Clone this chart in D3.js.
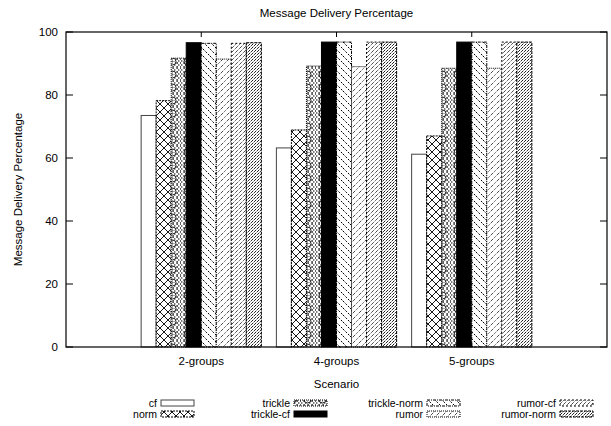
<!DOCTYPE html>
<html>
<head>
<meta charset="utf-8">
<script src="https://cdn.jsdelivr.net/npm/d3@7"></script>
<style>
  body { margin: 0; background: #fff; }
  text { font-family: "Liberation Sans", Arial, sans-serif; fill: #000; }
</style>
</head>
<body>
<script>
const width = 611, height = 426;
const margin = { top: 32, right: 4, bottom: 79, left: 66 };

// chart data
const scenarios = ["2-groups", "4-groups", "5-groups"];
const seriesNames = ["cf", "norm", "trickle", "trickle-cf", "trickle-norm", "rumor", "rumor-cf", "rumor-norm"];
const cfValues = [73.5, 63.2, 61.2];
const normValues = [78.2, 68.9, 67.0];
const trickleValues = [91.7, 89.2, 88.5];
const trickleCfValues = [96.6, 96.8, 96.8];
const trickleNormValues = [96.4, 96.8, 96.8];
const rumorValues = [91.4, 89.0, 88.5];
const rumorCfValues = [96.4, 96.8, 96.8];
const rumorNormValues = [96.6, 96.8, 96.8];
const yTicks = [0, 20, 40, 60, 80, 100];

const seriesValues = [cfValues, normValues, trickleValues, trickleCfValues,
  trickleNormValues, rumorValues, rumorCfValues, rumorNormValues];

const svg = d3.select("body").append("svg")
    .attr("width", width)
    .attr("height", height);

const x = d3.scaleLinear().domain([-1, 3]).range([margin.left, width - margin.right]);
const y = d3.scaleLinear().domain([0, 100]).range([height - margin.bottom, margin.top]);

// fill patterns, rough copies of the postscript ones
const defs = svg.append("defs");
function linePattern(id, size, lines, dash, sw) {
  const p = defs.append("pattern")
      .attr("id", id)
      .attr("patternUnits", "userSpaceOnUse")
      .attr("width", size).attr("height", size);
  p.append("rect").attr("width", size).attr("height", size).attr("fill", "#fff");
  lines.forEach(l => {
    p.append("line")
        .attr("x1", l[0]).attr("y1", l[1]).attr("x2", l[2]).attr("y2", l[3])
        .attr("stroke", "#000").attr("stroke-width", sw || 1)
        .attr("stroke-dasharray", dash || null);
  });
  return p;
}
linePattern("p-norm", 8, [[0, 0, 8, 8], [0, 8, 8, 0]], null, 0.9);
linePattern("p-trickle", 4, [[0, 0, 4, 4], [0, 4, 4, 0]], "1,1", 0.9);
// trickle also has small circles every few rows
const pt2 = defs.append("pattern")
    .attr("id", "p-trickle2")
    .attr("patternUnits", "userSpaceOnUse")
    .attr("x", 0).attr("y", 3)
    .attr("width", 15).attr("height", 13);
pt2.append("rect").attr("width", 15).attr("height", 13).attr("fill", "url(#p-trickle)");
pt2.append("circle").attr("cx", 7.5).attr("cy", 6.5).attr("r", 3.5)
    .attr("fill", "#fff").attr("stroke", "#000").attr("stroke-width", 0.9);
pt2.append("path").attr("d", "M7.5,3.5V9.5M4.5,6.5H10.5")
    .attr("stroke", "#000").attr("stroke-width", 0.7).attr("stroke-dasharray", "1,1");
linePattern("p-tnorm", 7, [[0, 0, 7, 7], [-7, 0, 0, 7], [7, 0, 14, 7]], "2,1.5", 1);
linePattern("p-rumor", 6, [[0, 6, 6, 0], [-6, 6, 0, 0], [6, 6, 12, 0]], "1,1.5", 1);
linePattern("p-rcf", 4, [[0, 4, 4, 0], [-4, 4, 0, 0], [4, 4, 8, 0]], "1,1", 1);
linePattern("p-rnorm", 3, [[0, 3, 3, 0], [-3, 3, 0, 0], [3, 3, 6, 0]], "2,1", 0.9);

const fills = ["#fff", "url(#p-norm)", "url(#p-trickle2)", "#000",
  "url(#p-tnorm)", "url(#p-rumor)", "url(#p-rcf)", "url(#p-rnorm)"];
const borders = [null, "2,1", "1,1", null, "3,1,1,1", "1,1", "2,2", "3,1"];
const strokeCol = ["#444", "#000", "#000", "#000", "#000", "#000", "#000", "#000"];

// bars: 8 per group, one slot of gap
const slot = 1 / 9;
const barData = [];
seriesValues.forEach((vals, s) => {
  vals.forEach((v, g) => barData.push({ s, g, v }));
});

svg.append("g").selectAll("rect")
  .data(barData)
  .join("rect")
    .attr("x", d => x(d.g + (d.s - 4) * slot))
    .attr("width", d => x(slot) - x(0))
    .attr("y", d => y(d.v))
    .attr("height", d => y(0) - y(d.v))
    .attr("fill", d => fills[d.s])
    .attr("stroke", d => strokeCol[d.s])
    .attr("stroke-width", 1)
    .attr("stroke-dasharray", d => borders[d.s]);

// frame and ticks (gnuplot style, inward + mirrored)
const plot = svg.append("g");
plot.append("rect")
    .attr("x", x(-1)).attr("y", y(100))
    .attr("width", x(3) - x(-1)).attr("height", y(0) - y(100))
    .attr("fill", "none").attr("stroke", "#000").attr("stroke-width", 1.2);

yTicks.forEach(t => {
  plot.append("line").attr("x1", x(-1)).attr("x2", x(-1) + 7)
      .attr("y1", y(t)).attr("y2", y(t)).attr("stroke", "#000");
  plot.append("line").attr("x1", x(3)).attr("x2", x(3) - 7)
      .attr("y1", y(t)).attr("y2", y(t)).attr("stroke", "#000");
  plot.append("text")
      .attr("x", x(-1) - 8).attr("y", y(t) + 4)
      .attr("text-anchor", "end")
      .style("font-size", "11.5px")
      .text(t);
});

scenarios.forEach((name, i) => {
  plot.append("line").attr("x1", x(i)).attr("x2", x(i))
      .attr("y1", y(100)).attr("y2", y(100) + 5).attr("stroke", "#000");
  plot.append("line").attr("x1", x(i)).attr("x2", x(i))
      .attr("y1", y(0)).attr("y2", y(0) - 5).attr("stroke", "#000");
  plot.append("text")
      .attr("x", x(i)).attr("y", y(0) + 18)
      .attr("text-anchor", "middle")
      .style("font-size", "11.5px")
      .text(name);
});

// titles
svg.append("text")
    .attr("x", (x(-1) + x(3)) / 2).attr("y", 17)
    .attr("text-anchor", "middle")
    .style("font-size", "11.5px")
    .text("Message Delivery Percentage");

svg.append("text")
    .attr("x", (x(-1) + x(3)) / 2).attr("y", 388)
    .attr("text-anchor", "middle")
    .style("font-size", "11.5px")
    .text("Scenario");

svg.append("text")
    .attr("transform", `translate(22, ${(y(0) + y(100)) / 2}) rotate(-90)`)
    .attr("text-anchor", "middle")
    .style("font-size", "11.5px")
    .text("Message Delivery Percentage");

// legend, 4 columns x 2 rows, filled column-wise
const legend = svg.append("g");
seriesNames.forEach((name, s) => {
  const col = Math.floor(s / 2), row = s % 2;
  const tx = 157 + col * 133, ty = 407 + row * 11;
  legend.append("text")
      .attr("x", tx).attr("y", ty)
      .attr("text-anchor", "end")
      .style("font-size", "10.5px")
      .text(name);
  legend.append("rect")
      .attr("x", tx + 4).attr("y", ty - 7)
      .attr("width", 33).attr("height", 6)
      .attr("fill", fills[s])
      .attr("stroke", strokeCol[s])
      .attr("stroke-dasharray", borders[s]);
});
</script>
</body>
</html>
